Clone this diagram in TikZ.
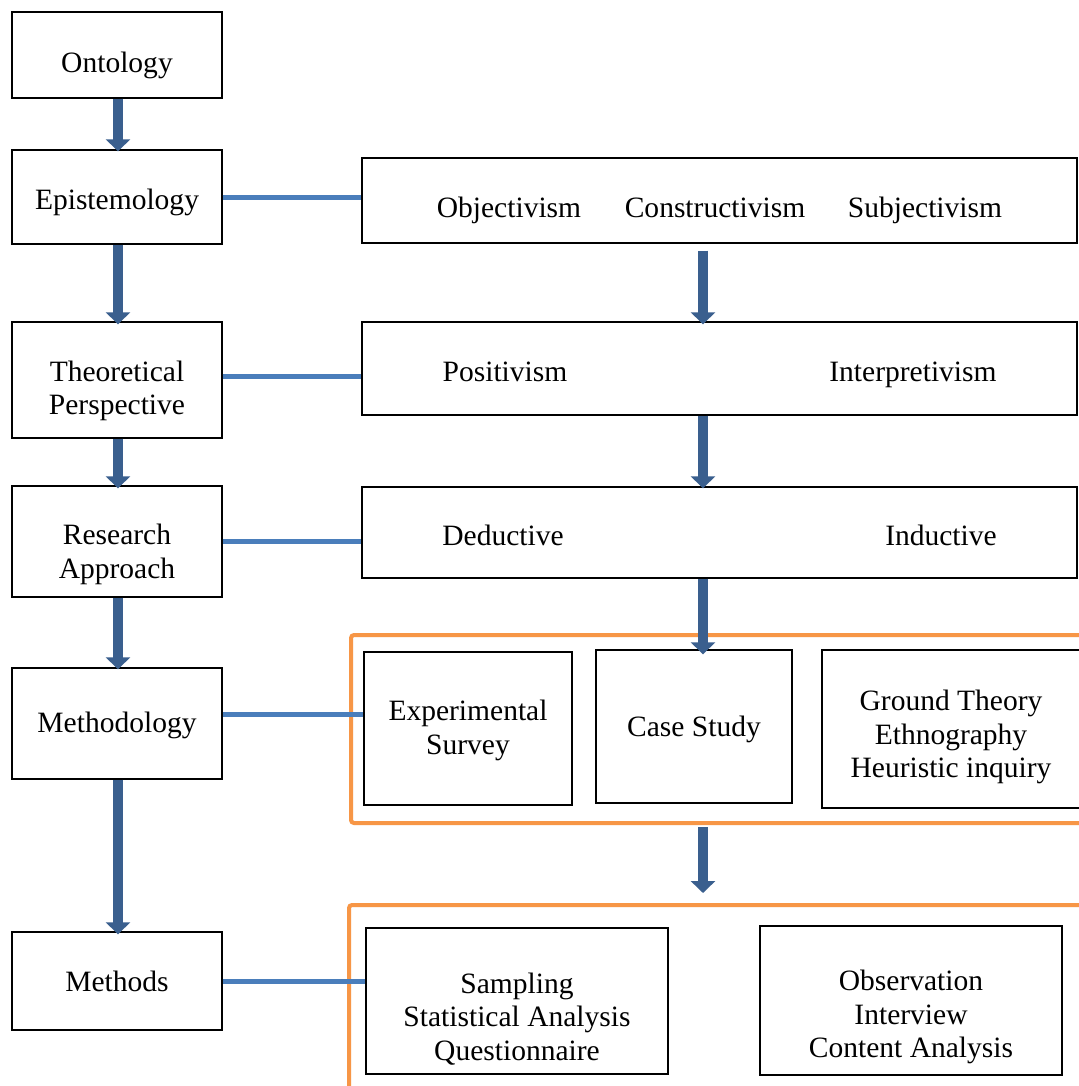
\documentclass[tikz,border=0pt]{standalone}
\usepackage{fontspec}
\setmainfont{Liberation Serif}
\usetikzlibrary{arrows.meta,calc}
\newdimen\px \px=0.02cm
\definecolor{arrowblue}{HTML}{3A5F8E}
\definecolor{linkblue}{HTML}{4A7EBB}
\definecolor{grouporange}{HTML}{F79646}
\begin{document}
\begin{tikzpicture}[x=0.02cm,y=-0.02cm,
  box/.style={draw=black,line width=0.8pt,inner sep=0pt},
  txt/.style={inner sep=0pt,align=center,font=\fontsize{16.8}{19.2}\selectfont},
  word/.style={txt,text height=12.5pt,text depth=0pt},
  group/.style={draw=grouporange,line width=0.08cm,rounded corners=0.06cm,inner sep=0pt},
  flow/.style={draw=arrowblue,line width=0.21cm,-{Triangle[width=0.48cm,length=0.24cm]}},
  link/.style={draw=linkblue,line width=0.1cm}]
\fill[white] (0,0) rectangle (1079,1086);
\useasboundingbox (0,0) rectangle (1079,1086);
\clip (0,0) rectangle (1079,1086);

% left column
\node[box,minimum width=210\px,minimum height=86\px]  (onto) at (117,55)    {};
\node[box,minimum width=210\px,minimum height=94\px]  (epis) at (117,197)   {};
\node[box,minimum width=210\px,minimum height=116\px] (theo) at (117,380)   {};
\node[box,minimum width=210\px,minimum height=111\px] (resa) at (117,541.5) {};
\node[box,minimum width=210\px,minimum height=111\px] (meth) at (117,723.5) {};
\node[box,minimum width=210\px,minimum height=98\px]  (mthd) at (117,981)   {};
\node[word] (ontot) at (117,62)  {Ontology};
\node[word] (epist) at (117,199) {Epistemology};
\node[txt]  (theot) at (117,391) {Theoretical\\Perspective};
\node[txt]  (resat) at (117,554.5) {Research\\Approach};
\node[word] (metht) at (117,722) {Methodology};
\node[word] (mthdt) at (117,981) {Methods};

% right column, wide boxes
\node[box,minimum width=715\px,minimum height=85\px] (obj) at (719.5,200.5) {};
\node[word] (objl) at (509,207) {Objectivism};
\node[word] (conl) at (715,207) {Constructivism};
\node[word] (subl) at (925,207) {Subjectivism};

\node[box,minimum width=715\px,minimum height=93\px] (pos) at (719.5,368.5) {};
\node[word] (posl) at (505,371) {Positivism};
\node[word] (intl) at (913,371) {Interpretivism};

\node[box,minimum width=715\px,minimum height=91\px] (ded) at (719.5,532.5) {};
\node[word] (dedl) at (503,535) {Deductive};
\node[word] (indl) at (941,535) {Inductive};

% methodology group
\node[group,minimum width=744\px,minimum height=188\px] (grp1) at (723,729) {};
\node[box,minimum width=208\px,minimum height=153\px] (expr) at (468,728.5) {};
\node[box,minimum width=196\px,minimum height=153\px] (case) at (694,726.5) {};
\node[box,minimum width=258\px,minimum height=158\px] (grnd) at (951,729)   {};
\node[txt]  (exprt) at (468,730.5) {Experimental\\Survey};
\node[word] (caset) at (694,726)   {Case Study};
\node[txt]  (grndt) at (951,737)   {Ground Theory\\Ethnography\\Heuristic inquiry};

% methods group
\node[group,minimum width=746\px,minimum height=200\px] (grp2) at (722,1005) {};
\node[box,minimum width=302\px,minimum height=146\px] (samp) at (517,1001)   {};
\node[box,minimum width=302\px,minimum height=149\px] (obsv) at (911,1000.5) {};
\node[txt] (sampt) at (517,1019) {Sampling\\Statistical Analysis\\Questionnaire};
\node[txt] (obsvt) at (911,1017) {Observation\\Interview\\Content Analysis};

% horizontal links
\draw[link] (epis.east) -- (epis.east -| obj.west);
\draw[link] ($(theo.east)+(0,-4)$) -- ($(theo.east -| pos.west)+(0,-4)$);
\draw[link] (resa.east) -- (resa.east -| ded.west);
\draw[link] ($(meth.east)+(0,-9)$) -- ($(meth.east -| expr.west)+(0,-9)$);
\draw[link] (mthd.east) -- (mthd.east -| samp.west);

% vertical flow, left
\draw[flow] ($(onto.south)+(1,0)$) -- ($(epis.north)+(1,2)$);
\draw[flow] ($(epis.south)+(1,0)$) -- ($(theo.north)+(1,3)$);
\draw[flow] ($(theo.south)+(1,0)$) -- ($(resa.north)+(1,3)$);
\draw[flow] ($(resa.south)+(1,0)$) -- ($(meth.north)+(1,2)$);
\draw[flow] ($(meth.south)+(1,0)$) -- ($(mthd.north)+(1,3)$);

% vertical flow, right
\draw[flow] ($(obj.south)+(-16.5,7)$) -- ($(pos.north)+(-16.5,3)$);
\draw[flow] ($(pos.south)+(-16.5,0)$) -- ($(ded.north)+(-16.5,2)$);
\draw[flow] ($(ded.south)+(-16.5,0)$) -- ($(case.north)+(9,5)$);
\draw[flow] ($(grp1.south)+(-20,2)$) -- ($(grp2.north)+(-19,-10)$);
\end{tikzpicture}
\end{document}
